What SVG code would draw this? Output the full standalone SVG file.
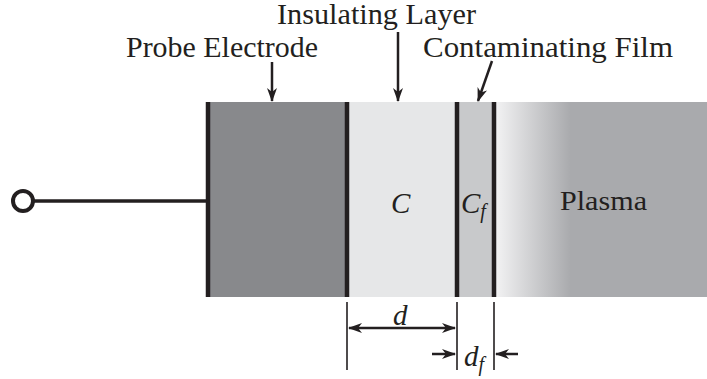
<svg xmlns="http://www.w3.org/2000/svg" width="707" height="379" viewBox="0 0 707 379">
<style>
text{font-family:"Liberation Serif","Times New Roman",serif;fill:#231f20}
.lbl{font-size:29px}
.it{font-style:italic;font-size:29px}
.wall{stroke:#231f20;stroke-width:4.5}
.ln{stroke:#231f20;stroke-width:1.6;fill:none}
.arr{stroke:#231f20;stroke-width:2.5;fill:none}
</style>
<defs>
<linearGradient id="pg" x1="494" y1="0" x2="707" y2="0" gradientUnits="userSpaceOnUse">
<stop offset="0" stop-color="#f4f4f5"/>
<stop offset="0.36" stop-color="#a9aaad"/>
<stop offset="1" stop-color="#a9aaad"/>
</linearGradient>
<marker id="ah" viewBox="0 0 14 10" refX="13" refY="5" markerWidth="14" markerHeight="10" markerUnits="userSpaceOnUse" orient="auto-start-reverse">
<path d="M0,0 L14,5 L0,10 L4,5 Z" fill="#231f20"/>
</marker>
</defs>
<g id="plasma">
<rect x="494" y="102" width="213" height="195" fill="url(#pg)"/>
<text class="lbl" x="560" y="210" style="font-size:28px" textLength="87" lengthAdjust="spacingAndGlyphs">Plasma</text>
</g>
<g id="electrode">
<rect x="208" y="102" width="139" height="195" fill="#88898c"/>
<line class="wall" x1="208" y1="102" x2="208" y2="297"/>
</g>
<g id="insulating">
<rect x="347" y="102" width="110" height="195" fill="#e6e7e8"/>
<line class="wall" x1="347" y1="102" x2="347" y2="297"/>
<text class="it" x="391" y="213">C</text>
</g>
<g id="film">
<rect x="457" y="102" width="37" height="195" fill="#c8c9cb"/>
<line class="wall" x1="457" y1="102" x2="457" y2="297"/>
<line class="wall" x1="494" y1="102" x2="494" y2="297"/>
<text class="it" x="461" y="213">C<tspan font-size="20" dy="5">f</tspan></text>
</g>
<g id="terminal">
<circle cx="23" cy="201" r="10" fill="#fff" stroke="#231f20" stroke-width="4"/>
<line x1="33" y1="201" x2="208" y2="201" stroke="#231f20" stroke-width="3.5"/>
</g>
<g id="labels">
<text class="lbl" x="277" y="24" textLength="199" lengthAdjust="spacingAndGlyphs">Insulating Layer</text>
<text class="lbl" x="126" y="57" textLength="192" lengthAdjust="spacingAndGlyphs">Probe Electrode</text>
<text class="lbl" x="423" y="57" textLength="250" lengthAdjust="spacingAndGlyphs">Contaminating Film</text>
</g>
<g id="connectors">
<line class="arr" x1="272" y1="62" x2="272" y2="101" marker-end="url(#ah)"/>
<line class="arr" x1="398" y1="32" x2="398" y2="101" marker-end="url(#ah)"/>
<line class="arr" x1="492" y1="61" x2="478" y2="101" marker-end="url(#ah)"/>
<line class="ln" x1="347" y1="302" x2="347" y2="370"/>
<line class="ln" x1="457" y1="302" x2="457" y2="370"/>
<line class="ln" x1="494" y1="302" x2="494" y2="370"/>
<line class="arr" x1="349" y1="328" x2="455" y2="328" marker-start="url(#ah)" marker-end="url(#ah)"/>
<line class="arr" x1="432" y1="354" x2="455" y2="354" marker-end="url(#ah)"/>
<line class="arr" x1="518" y1="354" x2="496" y2="354" marker-end="url(#ah)"/>
</g>
<g id="dims">
<text class="it" x="393" y="325">d</text>
<text class="it" x="464" y="366">d<tspan font-size="20" dy="5">f</tspan></text>
</g>
</svg>
